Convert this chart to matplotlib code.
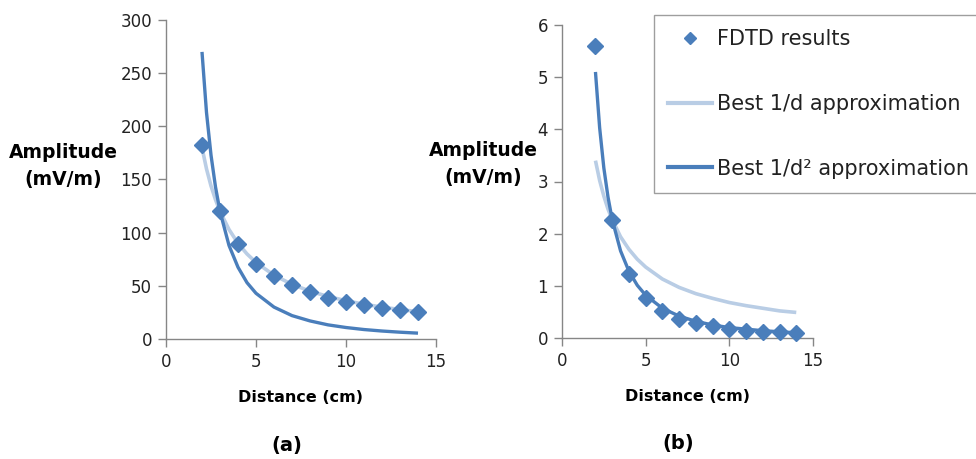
import matplotlib
matplotlib.use("Agg")
import matplotlib.pyplot as plt
from matplotlib.lines import Line2D
import numpy as np

# ---- data ----
dist_pts = [2, 3, 4, 5, 6, 7, 8, 9, 10, 11, 12, 13, 14]
fdtd_a = [182, 120, 89, 71, 59, 51, 44, 39, 35, 32, 29, 27, 25]
fdtd_b = [5.60, 2.26, 1.22, 0.77, 0.51, 0.37, 0.29, 0.23, 0.17, 0.14, 0.12, 0.11, 0.10]

dist_fit = [2, 2.25, 2.5, 2.75, 3, 3.5, 4, 4.5, 5, 6, 7, 8, 9, 10, 11, 12, 13, 14]
inv_d_a = [180, 160, 144, 131, 120, 103, 90, 80, 72, 60, 51.4, 45, 40, 36, 32.7, 30, 27.7, 25.7]
inv_d2_a = [270, 213, 173, 143, 120, 88, 67.5, 53, 43, 30, 22, 17, 13.3, 10.8, 8.9, 7.5, 6.4, 5.5]
inv_d_b = [3.40, 3.02, 2.72, 2.47, 2.27, 1.94, 1.70, 1.51, 1.36, 1.13, 0.97, 0.85, 0.76, 0.68, 0.62, 0.57, 0.52, 0.49]
inv_d2_b = [5.10, 4.03, 3.26, 2.70, 2.27, 1.67, 1.28, 1.01, 0.82, 0.57, 0.42, 0.32, 0.25, 0.20, 0.17, 0.14, 0.12, 0.10]

labels = ["FDTD results", "Best 1/d approximation", "Best 1/d\u00b2 approximation"]

dark = "#4A7EBB"
light = "#B9CDE5"
gray = "#868686"

plt.rcParams['font.family'] = ['DejaVu Sans']

fig = plt.figure(figsize=(9.76, 4.59), dpi=100)
W, H = 976, 459

def make_ax(x0, x1, ytop, ybot):
    return fig.add_axes([x0 / W, 1 - ybot / H, (x1 - x0) / W, (ybot - ytop) / H])

axA = make_ax(166, 436, 20, 339)
axB = make_ax(562, 813, 25, 338)

def style(ax, ymax, ystep):
    for s in ["top", "right"]:
        ax.spines[s].set_visible(False)
    for s in ["left", "bottom"]:
        ax.spines[s].set_color(gray)
        ax.spines[s].set_linewidth(1.0)
    ax.set_xlim(0, 15)
    ax.set_ylim(0, ymax)
    ax.set_xticks([0, 5, 10, 15])
    ax.set_yticks(np.arange(0, ymax + ystep / 2, ystep))
    ax.tick_params(direction="out", length=6, width=1, color=gray,
                   labelsize=12, labelcolor="#222222", pad=4)
    ax.set_xlabel("Distance (cm)", fontsize=11.5, fontweight="bold", labelpad=14)

style(axA, 300, 50)
style(axB, 6, 1)

for ax, fd, l1, l2 in [(axA, fdtd_a, inv_d_a, inv_d2_a), (axB, fdtd_b, inv_d_b, inv_d2_b)]:
    ax.plot(dist_fit, l1, color=light, lw=2.6, zorder=2, solid_capstyle="butt")
    ax.plot(dist_fit, l2, color=dark, lw=2.4, zorder=3, solid_capstyle="butt")
    ax.plot(dist_pts, fd, linestyle="none", marker="D", ms=8.5, color=dark, zorder=4, clip_on=False)

# y labels (horizontal, two lines)
fig.text(63 / W, 1 - 166 / H, "Amplitude\n(mV/m)", ha="center", va="center",
         fontsize=13.5, fontweight="bold", linespacing=1.55)
fig.text(483 / W, 1 - 164 / H, "Amplitude\n(mV/m)", ha="center", va="center",
         fontsize=13.5, fontweight="bold", linespacing=1.55)

fig.text(287 / W, 1 - 445 / H, "(a)", ha="center", va="center", fontsize=14, fontweight="bold")
fig.text(678 / W, 1 - 444 / H, "(b)", ha="center", va="center", fontsize=14, fontweight="bold")

handles = [
    Line2D([], [], linestyle="none", marker="D", ms=6, color=dark),
    Line2D([], [], color=light, lw=3),
    Line2D([], [], color=dark, lw=3),
]
leg = fig.legend(handles, labels, loc="upper left", bbox_to_anchor=(654 / W, 1 - 15 / H),
                 borderaxespad=0, fontsize=15, frameon=True, fancybox=False, borderpad=0.68,
                 labelspacing=2.15, handlelength=2.1, handletextpad=0.25)
leg.get_frame().set_edgecolor(gray)
leg.get_frame().set_linewidth(1.0)
for t in leg.get_texts():
    t.set_color("#222222")

fig.savefig("out.png", dpi=100)
